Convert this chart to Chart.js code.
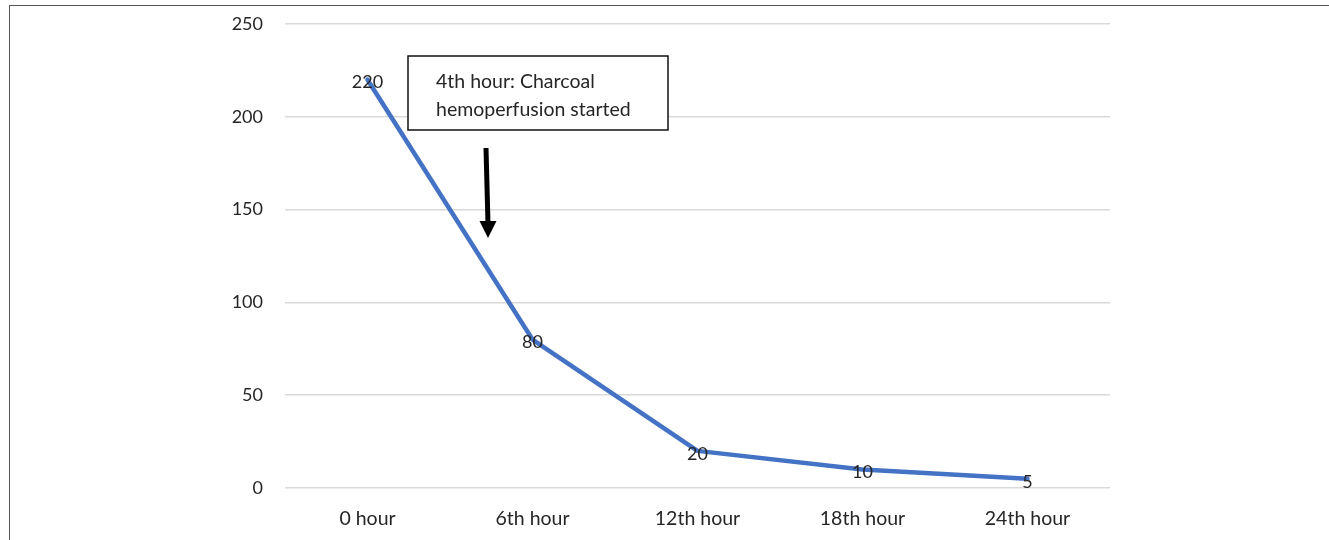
<!DOCTYPE html>
<html>
<head>
<meta charset="utf-8">
<script src="https://cdn.jsdelivr.net/npm/chart.js@4"></script>
<style>
  html, body { margin: 0; padding: 0; background: #fff; }
  #wrap { position: relative; width: 1329px; height: 540px; }
  #frame { position: absolute; left: 9px; top: 5px; right: 0; bottom: 0;
           border-top: 1.5px solid #555; border-left: 1.5px solid #555; pointer-events: none; }
  canvas { position: absolute; left: 0; top: 0; }
</style>
</head>
<body>
<div id="wrap">
  <canvas id="c" width="1329" height="540"></canvas>
  <div id="frame"></div>
</div>
<script>
// Time points after admission and measured concentration
const categories = ['0 hour', '6th hour', '12th hour', '18th hour', '24th hour'];
const levels = [220, 80, 20, 10, 5];
const yTicks = [0, 50, 100, 150, 200, 250];
const noteLines = ['4th hour: Charcoal', 'hemoperfusion started'];

const FONT = 'Lato, "Open Sans", sans-serif';
const TEXT = '#262626';

// Value labels centred on each point
const pointLabels = {
  id: 'pointLabels',
  afterDatasetsDraw(chart) {
    const ctx = chart.ctx;
    const meta = chart.getDatasetMeta(0);
    ctx.save();
    ctx.font = '18px ' + FONT;
    ctx.fillStyle = TEXT;
    ctx.textAlign = 'center';
    ctx.textBaseline = 'middle';
    meta.data.forEach((pt, i) => {
      ctx.fillText(String(chart.data.datasets[0].data[i]), pt.x, pt.y + 3);
    });
    ctx.restore();
  }
};

// Callout box and arrow marking the start of hemoperfusion
const callout = {
  id: 'callout',
  afterDraw(chart) {
    const ctx = chart.ctx;
    const x0 = chart.chartArea.left;
    const t = chart.chartArea.top;
    ctx.save();
    // box
    const bx = x0 + 123, by = t + 32, bw = 260, bh = 74;
    ctx.fillStyle = '#fff';
    ctx.fillRect(bx, by, bw, bh);
    ctx.strokeStyle = '#111';
    ctx.lineWidth = 1.5;
    ctx.strokeRect(bx, by, bw, bh);
    ctx.font = '19.5px ' + FONT;
    ctx.fillStyle = TEXT;
    ctx.textAlign = 'left';
    ctx.textBaseline = 'middle';
    ctx.fillText(noteLines[0], bx + 28, by + 26);
    ctx.fillText(noteLines[1], bx + 28, by + 54);
    // arrow
    const ax1 = x0 + 201, ay1 = t + 124;
    const ax2 = x0 + 203, ay2 = t + 214;
    ctx.strokeStyle = '#000';
    ctx.lineWidth = 5;
    ctx.beginPath();
    ctx.moveTo(ax1, ay1);
    ctx.lineTo(ax2, ay2 - 14);
    ctx.stroke();
    ctx.fillStyle = '#000';
    ctx.beginPath();
    ctx.moveTo(ax2 - 8.5, ay2 - 17);
    ctx.lineTo(ax2 + 8.5, ay2 - 17);
    ctx.lineTo(ax2, ay2);
    ctx.closePath();
    ctx.fill();
    ctx.restore();
  }
};

new Chart(document.getElementById('c'), {
  type: 'line',
  data: {
    labels: categories,
    datasets: [{
      data: levels,
      borderColor: '#4472C4',
      borderWidth: 4.5,
      borderCapStyle: 'round',
      borderJoinStyle: 'round',
      pointRadius: 0,
      tension: 0,
      fill: false
    }]
  },
  options: {
    responsive: false,
    animation: false,
    devicePixelRatio: 1,
    layout: { padding: { top: 24, right: 219, left: 0, bottom: 0 } },
    plugins: { legend: { display: false }, tooltip: { enabled: false } },
    scales: {
      x: {
        offset: true,
        grid: { display: false, drawTicks: false },
        border: { display: false },
        ticks: { color: TEXT, font: { family: FONT, size: 19.5 }, padding: 19, maxRotation: 0 },
        afterFit(s) { s.height = 52; }
      },
      y: {
        min: 0, max: 250,
        afterBuildTicks(s) { s.ticks = yTicks.map(v => ({ value: v })); },
        grid: { color: '#d9d9d9', lineWidth: 1.5, drawTicks: false },
        border: { display: false },
        ticks: { color: TEXT, font: { family: FONT, size: 18 }, padding: 22 },
        afterFit(s) { s.width = 285; s.paddingTop = 0; s.paddingBottom = 0; }
      }
    }
  },
  plugins: [pointLabels, callout]
});
</script>
</body>
</html>
